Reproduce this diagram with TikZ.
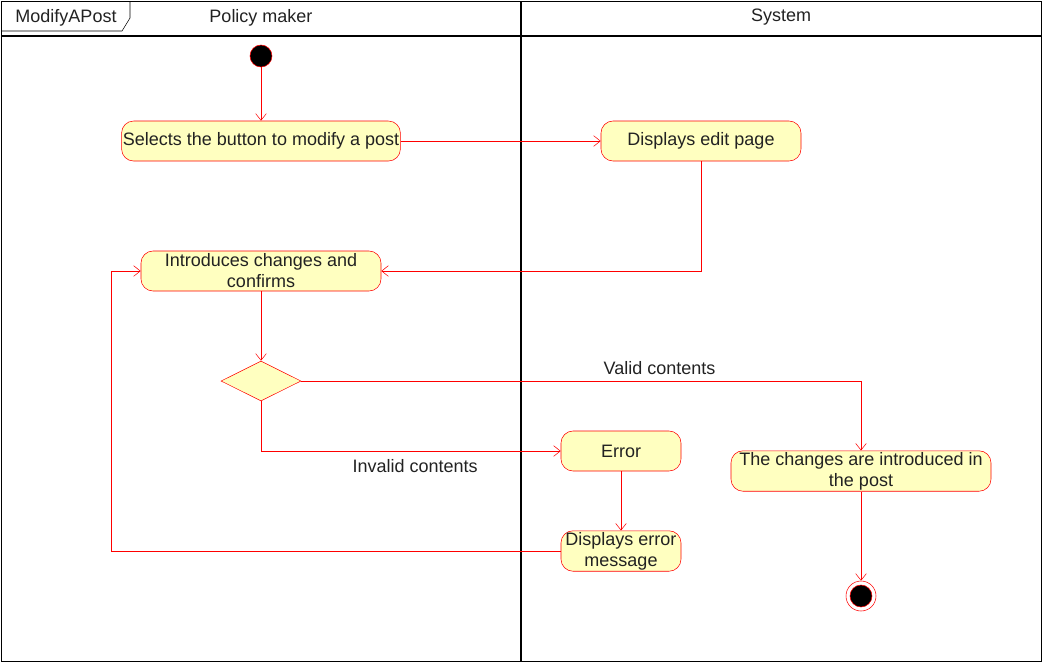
\documentclass[tikz,border=0pt]{standalone}
\usepackage{fontspec}
\setmainfont{Liberation Sans}
\usetikzlibrary{arrows.meta, shapes.geometric}
\definecolor{actfill}{HTML}{FFFFC0}
\definecolor{actline}{HTML}{FF0000}
\definecolor{txt}{HTML}{222222}
\tikzset{
	act/.style = {rectangle, rounded corners=9pt, draw=actline, fill=actfill,
		text=txt, minimum width=#1, minimum height=30pt,
		inner sep=1pt, align=center},
	act/.default = 90pt,
	startdot/.style = {circle, fill=black, draw=actline, minimum size=#1,
		inner sep=0pt, outer sep=0pt},
	startdot/.default = 16.5pt,
	endring/.style = {circle, draw=actline, fill=white, minimum size=22.5pt,
		inner sep=0pt},
	decision/.style = {diamond, draw=actline, fill=actfill, aspect=2,
		minimum width=60pt, minimum height=30pt, inner sep=0pt},
	flow/.style = {draw=actline, -{Straight Barb[length=5pt,width=8pt]}},
	lane/.style = {line width=1.5pt}
}

\begin{document}
\begin{tikzpicture}[x=0.75pt, y=-0.75pt, font=\fontsize{13.5}{15.75}\selectfont, text=txt]
\useasboundingbox (0,0) rectangle (1042,662);
% swimlanes
\draw (1,1) rectangle (1041,661);
\draw[lane] (1,36) -- (1041,36);
\draw[lane] (521,1) -- (521,661);
\draw (130,1) -- (130,18) -- (122,31) -- (1,31);
\node (frame) at (66,17.5) {ModifyAPost};
\node (pm) at (261,17.5) {Policy maker};
\node (sys) at (781,17.5) {System};

\node[startdot] (start) at (261,56) {};
\node[act=209pt] (sel) at (261,141) {Selects the button to modify a post};
\node[act=150pt] (edit) at (701,141) {Displays edit page};
\node[act=180pt] (intro) at (261,271) {Introduces changes and\\confirms};
\node[decision] (dec) at (261,381) {};
\node[act] (err) at (621,451) {Error};
\node[act] (msg) at (621,551) {Displays error\\message};
\node[act=195pt] (done) at (861,471) {The changes are introduced in\\the post};
\node[endring] (end) at (861,596) {};
\node[startdot] (endcore) at (end) {};
\coordinate (loop) at (111,551);

\draw[flow] (start) -- (sel);
\draw[flow] (sel) -- (edit);
\draw[flow] (edit.south) |- (intro.east);
\draw[flow] (intro) -- (dec);
\draw[flow] (dec.east) -| node[pos=0.32, above, yshift=1.5pt] {Valid contents} (done.north);
\draw[flow] (dec.south) |- node[pos=0.757, below, yshift=-3pt] {Invalid contents} (err.west);
\draw[flow] (err) -- (msg);
\draw[flow] (msg.west) -- (loop) |- (intro.west);
\draw[flow] (done) -- (end);
\end{tikzpicture}
\end{document}
